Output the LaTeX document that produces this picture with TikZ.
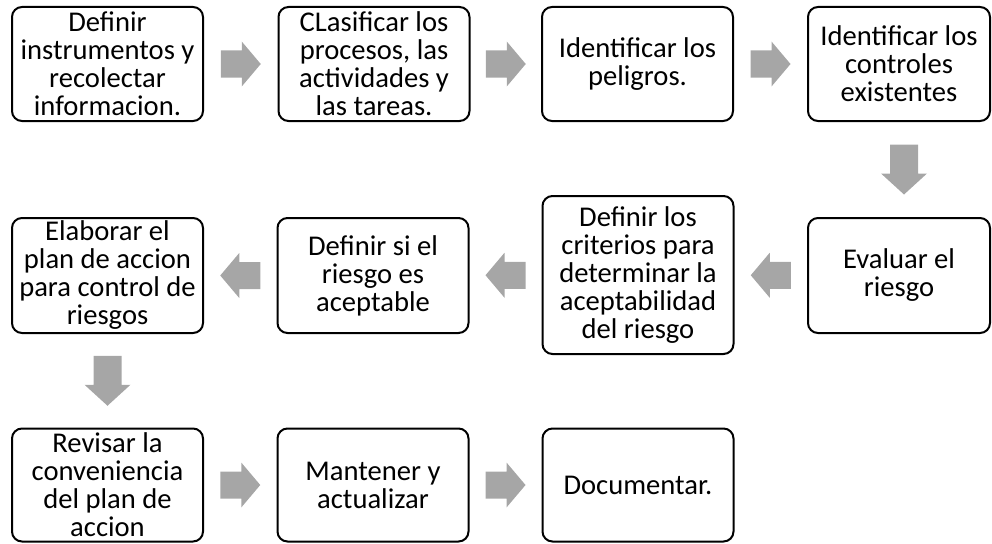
\documentclass[tikz,border=0pt]{standalone}
\usepackage{fontspec}
\setmainfont{Carlito}
\usetikzlibrary{calc,positioning}
\definecolor{gris}{HTML}{A6A6A6}
\tikzset{
  caja/.style={draw, line width=2pt, rounded corners=10pt, minimum width=191pt,
    minimum height=114pt, align=center, inner sep=0pt,
    font=\fontsize{28.6}{28}\selectfont},
  flecha/.pic={\fill[gris] (-20,-13.5) -- (1,-13.5) -- (1,-22.5) -- (20,0)
    -- (1,22.5) -- (1,13.5) -- (-20,13.5) -- cycle;},
  bajada/.pic={\fill[gris] (-14,-25) -- (14,-25) -- (14,4) -- (23,4) -- (0,25)
    -- (-23,4) -- (-14,4) -- cycle;},
}

\begin{document}
\begin{tikzpicture}[x=1pt,y=-1pt]
\useasboundingbox (0,0) rectangle (992,543);
\node [caja] (definir) at (107.5,64) {Definir\\instrumentos y\\recolectar\\informacion.};
\node [caja] (clasificar) at (374,64) {CLasificar los\\procesos, las\\actividades y\\las tareas.};
\node [caja] (peligros) at (637.5,64) {Identificar los\\peligros.};
\node [caja, minimum width=182pt] (controles) at (899,64) {Identificar los\\controles\\existentes};
\node [caja, minimum width=182pt, minimum height=115pt] (evaluar) at (899,275.5) {Evaluar el\\riesgo};
\node [caja, minimum height=158pt] (criterios) at (638,275) {Definir los\\criterios para\\determinar la\\aceptabilidad\\del riesgo};
\node [caja, minimum height=115pt] (aceptable) at (373,275.5) {Definir si el\\riesgo es\\aceptable};
\node [caja, minimum height=115pt] (plan) at (107.5,275.5) {Elaborar el\\plan de accion\\para control de\\riesgos};
\node [caja, minimum height=113pt] (revisar) at (107.5,485) {Revisar la\\conveniencia\\del plan de\\accion};
\node [caja, minimum height=113pt] (mantener) at (373,485) {Mantener y\\actualizar};
\node [caja, minimum height=113pt] (documentar) at (638,485) {Documentar.};

\pic at ($(definir.east)!0.5!(clasificar.west)$) {flecha};
\pic at ($(clasificar.east)!0.5!(peligros.west)$) {flecha};
\pic at ($(peligros.east)!0.5!(controles.west)$) {flecha};
\pic [xshift=5pt] at ($(controles.south)!0.5!(evaluar.north)$) {bajada};
\pic [rotate=180] at ($(evaluar.west)!0.5!(criterios.east)$) {flecha};
\pic [rotate=180] at ($(criterios.west)!0.5!(aceptable.east)$) {flecha};
\pic [rotate=180] at ($(aceptable.west)!0.5!(plan.east)$) {flecha};
\pic at ($(plan.south)!0.5!(revisar.north)$) {bajada};
\pic at ($(revisar.east)!0.5!(mantener.west)$) {flecha};
\pic at ($(mantener.east)!0.5!(documentar.west)$) {flecha};
\end{tikzpicture}
\end{document}
